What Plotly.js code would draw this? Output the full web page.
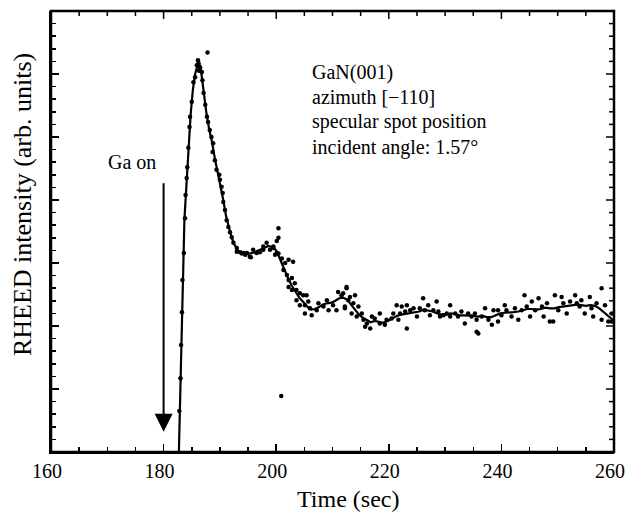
<!DOCTYPE html>
<html>
<head>
<meta charset="utf-8">
<script src="https://cdn.plot.ly/plotly-3.0.1.min.js"></script>
<style>html,body{margin:0;padding:0;background:#fff;overflow:hidden;}#chart{width:627px;height:514px;}</style>
</head>
<body>
<div id="chart"></div>
<script>
// Smoothed curve (solid line)
var timeFit = [182.7,183.0,183.25,183.45,183.7,184.1,184.4,184.8,185.2,185.6,186.0,186.3,186.7,187.1,187.6,188.1,188.6,189.1,189.6,190.1,190.6,191.1,191.6,192.1,192.6,193.2,193.8,194.5,195.3,196.2,197.0,197.8,198.6,199.4,200.0,200.6,201.3,202.0,202.7,203.4,204.1,204.8,205.5,206.2,206.9,207.6,208.3,209.0,209.8,210.5,211.2,211.9,212.6,213.3,214.0,214.7,215.4,216.1,216.8,217.5,218.3,219.0,219.8,220.6,221.4,222.2,223.0,223.8,224.6,225.4,226.2,227.0,227.8,228.6,229.4,230.2,231.0,231.8,232.6,233.4,234.2,235.0,235.8,236.6,237.4,238.2,239.0,239.8,240.6,241.4,242.2,243.0,243.8,244.6,245.4,246.2,247.0,247.8,248.6,249.4,250.2,251.0,251.8,252.6,253.4,254.2,255.0,255.8,256.6,257.4,258.2,259.0,259.6,260.0];
var intensityFit = [-0.05,1.17,2.22,3.15,3.7,4.3,4.85,5.35,5.75,6.0,6.13,6.15,6.02,5.72,5.38,5.12,4.92,4.66,4.44,4.26,4.0,3.74,3.55,3.4,3.29,3.2,3.16,3.15,3.15,3.17,3.2,3.24,3.27,3.25,3.2,3.08,2.92,2.78,2.65,2.54,2.45,2.38,2.31,2.26,2.27,2.3,2.34,2.36,2.37,2.4,2.44,2.45,2.42,2.34,2.25,2.18,2.13,2.09,2.06,2.08,2.06,2.05,2.08,2.12,2.16,2.18,2.19,2.2,2.21,2.23,2.26,2.25,2.23,2.2,2.18,2.18,2.2,2.19,2.17,2.17,2.17,2.16,2.15,2.16,2.14,2.14,2.17,2.2,2.21,2.21,2.22,2.23,2.25,2.27,2.27,2.26,2.27,2.29,2.28,2.28,2.3,2.31,2.31,2.32,2.34,2.33,2.32,2.33,2.32,2.28,2.22,2.15,2.1,2.08];

// Measured points (dots)
var timeDots = [182.8,183.0,183.1,183.25,183.35,183.6,183.8,183.9,184.1,184.2,184.4,184.6,184.7,185.0,185.3,185.6,185.9,186.2,186.1,186.4,186.5,186.3,186.8,186.9,187.1,187.4,187.7,187.9,188.2,188.5,188.8,188.7,189.1,189.4,189.9,190.0,190.3,190.5,190.6,190.9,191.2,191.5,191.8,192.1,192.4,193.0,193.6,194.2,194.8,195.3,195.9,196.5,197.1,197.7,198.3,198.9,199.5,200.1,200.4,
193.0,193.9,194.5,195.5,196.8,197.7,199.5,200.1,200.4,199.8,200.4,201.0,201.6,202.2,203.0,201.3,201.9,202.2,202.8,203.3,202.2,202.8,203.6,204.2,204.8,205.4,203.6,204.2,205.1,205.7,206.0,205.1,206.3,207.2,207.5,208.4,209.0,209.3,210.1,210.7,211.0,211.6,212.5,212.8,212.2,
212.5,211.9,213.1,214.0,212.2,213.7,214.6,213.4,214.3,215.2,215.5,216.1,216.7,215.8,217.0,217.5,218.4,218.4,219.3,219.6,220.5,221.4,221.7,222.0,222.9,223.2,223.8,224.4,225.0,225.5,226.1,226.4,227.0,227.3,227.9,228.5,228.8,229.1,229.7,230.3,230.9,230.9,231.8,232.3,232.9,233.5,234.1,234.7,235.6,235.3,223.2,220.8,222.3,
235.6,236.5,235.9,237.1,237.7,238.3,238.6,239.4,239.4,240.0,240.6,240.9,241.8,242.4,243.0,243.6,244.1,244.5,245.1,245.4,246.0,246.6,247.2,247.5,248.1,248.6,249.2,249.5,250.1,250.7,251.0,251.6,252.2,253.1,253.4,253.9,254.2,254.8,255.7,256.0,256.3,256.9,257.8,257.8,258.4,259.0,259.6,259.6,
200.9,187.8];
var intensityDots = [0.65,1.17,1.7,2.22,2.73,3.16,3.71,4.08,4.35,4.52,4.83,5.16,5.32,5.56,5.87,5.95,6.14,6.17,6.22,6.12,6.1,6.05,6.03,5.9,5.7,5.51,5.32,5.24,5.11,5.0,4.9,4.76,4.63,4.48,4.4,4.32,4.21,4.11,3.97,3.84,3.68,3.57,3.49,3.41,3.32,3.24,3.17,3.16,3.16,3.1,3.21,3.16,3.17,3.21,3.32,3.21,3.24,3.16,3.4,
3.18,3.15,3.13,3.09,3.18,3.26,3.26,3.35,3.55,3.13,3.15,3.07,3.0,3.05,3.02,2.89,2.81,2.73,2.76,2.68,2.62,2.57,2.57,2.52,2.49,2.49,2.41,2.33,2.33,2.39,2.28,2.2,2.17,2.25,2.36,2.31,2.41,2.25,2.33,2.25,2.54,2.49,2.6,2.41,2.31,
2.62,2.52,2.46,2.49,2.28,2.36,2.31,2.2,2.15,2.2,2.1,2.04,1.96,1.99,2.15,2.12,2.2,2.04,2.02,2.1,2.12,2.33,2.1,2.2,2.23,1.96,2.25,2.28,2.15,2.28,2.44,2.25,2.33,2.17,2.25,2.39,2.23,2.15,2.17,2.2,2.33,2.15,2.2,2.15,2.23,2.04,2.2,2.15,1.91,2.2,2.33,2.2,2.31,
2.1,2.15,1.88,2.28,2.1,2.02,2.25,2.25,2.07,2.17,2.33,2.25,2.15,2.28,2.1,2.25,2.49,2.31,2.15,2.39,2.25,2.44,2.31,2.15,2.36,2.07,2.07,2.49,2.25,2.46,2.36,2.2,2.39,2.49,2.36,2.31,2.41,2.2,2.46,2.28,2.15,2.36,2.6,2.1,2.33,2.07,2.2,2.07,
0.89,6.34];

var xTickVals = [160,180,200,220,240,260];
var xTickText = ['160','180','200','220','240','260'];

var infoLines = ['GaN(001)','azimuth [\u2212110]','specular spot position','incident angle: 1.57\u00b0'];
var infoY = [6.03,5.63,5.25,4.83];

var serif = 'Liberation Serif, Times New Roman, serif';
var X_RANGE = [160, 260], Y_RANGE = [0, 7];
var PLOT_W = 563, PLOT_H = 441;

var traces = [
  {x: timeFit, y: intensityFit, mode: 'lines', line: {color: '#000', width: 2.2}, hoverinfo: 'skip', showlegend: false},
  {x: timeDots, y: intensityDots, mode: 'markers', marker: {color: '#000', size: 4.5}, showlegend: false}
];

var annotations = infoLines.map(function(t, i){
  return {x: 206.0, y: infoY[i], xref: 'x', yref: 'y', text: t, showarrow: false,
          xanchor: 'left', yanchor: 'middle', font: {family: serif, size: 20, color: '#000'}};
});
annotations.push({x: 174.3, y: 4.6, xref: 'x', yref: 'y', text: 'Ga on', showarrow: false,
  xanchor: 'center', yanchor: 'middle', font: {family: serif, size: 20, color: '#000'}});
annotations.push({x: 180, y: 0.32, ax: 180, ay: 4.29, xref: 'x', yref: 'y', axref: 'x', ayref: 'y',
  text: '', showarrow: true, arrowhead: 2, arrowsize: 1.8, arrowwidth: 2, arrowcolor: '#000'});
annotations.push({x: 0.5275, y: -0.1066, xref: 'paper', yref: 'paper', text: 'Time (sec)', showarrow: false,
  xanchor: 'center', yanchor: 'middle', font: {family: serif, size: 24, color: '#000'}});
annotations.push({x: -0.0515, y: 0.56, xref: 'paper', yref: 'paper', text: 'RHEED intensity (arb. units)', showarrow: false,
  textangle: -90, xanchor: 'center', yanchor: 'middle', font: {family: serif, size: 26, color: '#000'}});

// Frame + mirrored ticks on top and right edges (axis decoration)
var shapes = [{type: 'rect', xref: 'paper', yref: 'paper', x0: 0, x1: 1, y0: 0, y1: 1,
  line: {color: '#000', width: 2.5}, fillcolor: 'rgba(0,0,0,0)', layer: 'above'}];
for (var t = X_RANGE[0] + 5; t < X_RANGE[1]; t += 5) {
  var len = (t % 20 === 0) ? 8 : 5;
  shapes.push({type: 'line', xref: 'x', yref: 'paper', x0: t, x1: t, y0: 1, y1: 1 - len / PLOT_H,
    line: {color: '#000', width: 1.5}, layer: 'above'});
}
for (var k = 1; k < 35; k++) {
  var v = k * 0.2;
  var lenY = (k % 5 === 0) ? 8 : 5;
  shapes.push({type: 'line', xref: 'paper', yref: 'y', x0: 1, x1: 1 - lenY / PLOT_W, y0: v, y1: v,
    line: {color: '#000', width: 1.5}, layer: 'above'});
}

function axisStyle(extra) {
  return Object.assign({ticks: 'inside', ticklen: 8, tickwidth: 1.5, tickcolor: '#000',
    showline: true, linewidth: 2, linecolor: '#000', showgrid: false, zeroline: false}, extra);
}
var xMinor = {dtick: 5, ticks: 'inside', ticklen: 5, tickwidth: 1.5, tickcolor: '#000', showgrid: false};
var yMinor = {dtick: 0.2, ticks: 'inside', ticklen: 5, tickwidth: 1.5, tickcolor: '#000', showgrid: false};

var layout = {
  width: 627, height: 514,
  margin: {l: 51, r: 13, t: 11, b: 62, pad: 0},
  paper_bgcolor: '#fff', plot_bgcolor: '#fff',
  showlegend: false,
  font: {family: serif, color: '#000'},
  xaxis: axisStyle({range: X_RANGE, tickvals: xTickVals, ticktext: xTickText, minor: xMinor,
    ticklabelshift: -4, ticklabeloverflow: 'allow',
    tickfont: {family: serif, size: 20, color: '#000'}}),
  yaxis: axisStyle({range: Y_RANGE, dtick: 1, tick0: 0, minor: yMinor, showticklabels: false}),
  shapes: shapes,
  annotations: annotations
};

Plotly.newPlot('chart', traces, layout, {staticPlot: true});
</script>
</body>
</html>
